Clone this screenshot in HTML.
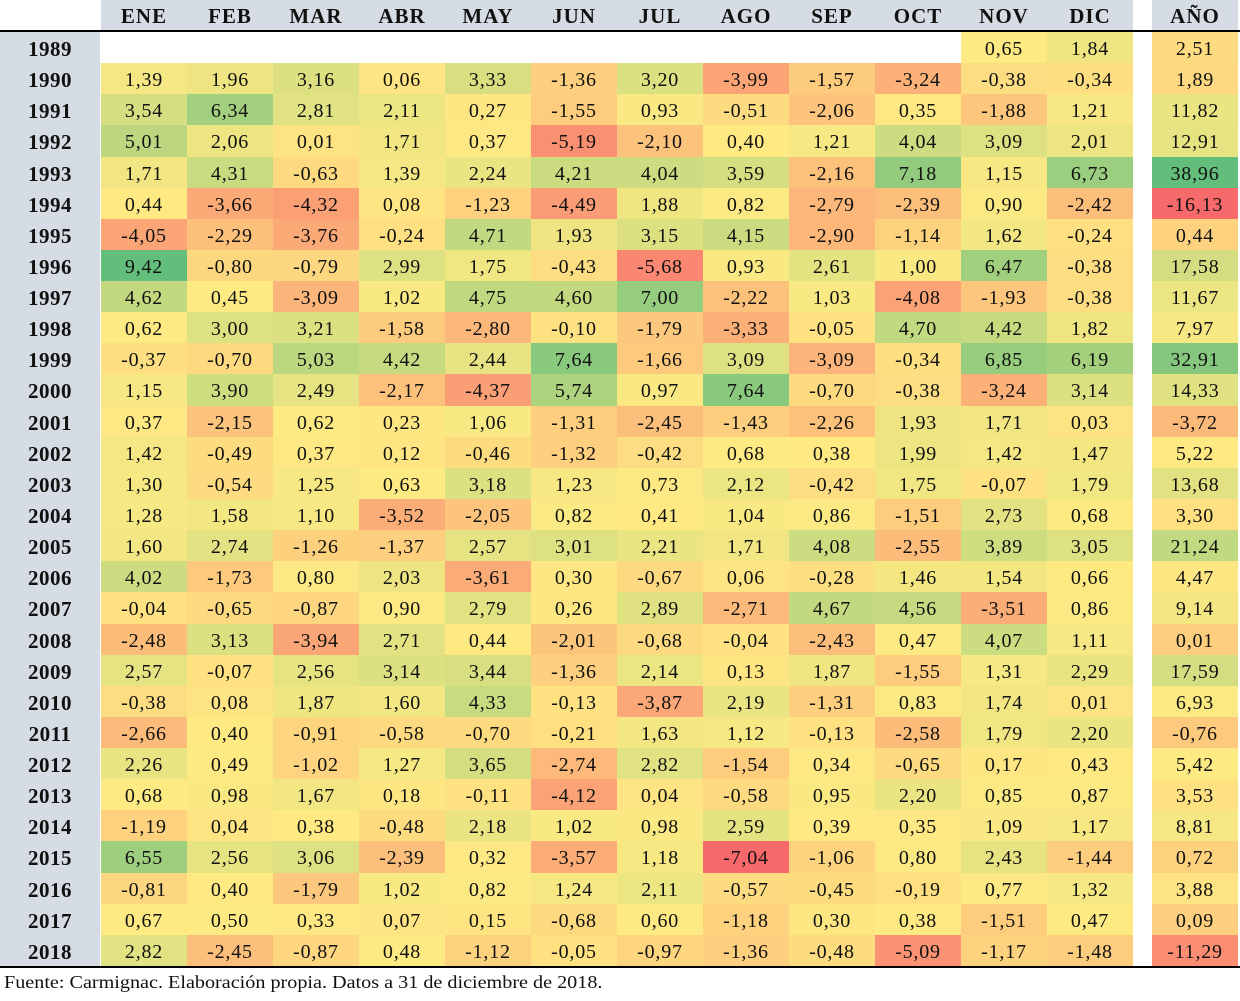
<!DOCTYPE html>
<html><head><meta charset="utf-8"><style>
body{margin:0;width:1240px;height:1001px;background:#fff;position:relative;overflow:hidden;font-family:"Liberation Serif",serif;color:#111}
.hdr{position:absolute;top:0;height:30px;background:#d6dce4;font-weight:bold;font-size:21px;line-height:32px;text-align:center;letter-spacing:1px}
.line{position:absolute;left:0;width:1240px;height:2px;background:#000}
.yc{position:absolute;left:0;top:32px;width:100px;height:934px;background:#d6dce4}
.r{position:absolute;left:0;height:31.133px;width:1240px}
.r div{position:absolute;top:0;height:31.133px;line-height:34px;text-align:center;font-size:20px;letter-spacing:0.8px}
.r div.y{left:0;width:100px;font-weight:bold;font-size:21px;letter-spacing:0.5px}
.foot{position:absolute;left:4px;top:972px;font-size:18px;transform:scaleX(1.12);transform-origin:0 0;white-space:nowrap}
</style></head><body>
<div class="yc"></div>
<div id="hd"></div>
<div class="line" style="top:30px"></div>
<div id="rows">
<p>1989|||||||||||0,65|1,84|2,51</p>
<p>1990|1,39|1,96|3,16|0,06|3,33|-1,36|3,20|-3,99|-1,57|-3,24|-0,38|-0,34|1,89</p>
<p>1991|3,54|6,34|2,81|2,11|0,27|-1,55|0,93|-0,51|-2,06|0,35|-1,88|1,21|11,82</p>
<p>1992|5,01|2,06|0,01|1,71|0,37|-5,19|-2,10|0,40|1,21|4,04|3,09|2,01|12,91</p>
<p>1993|1,71|4,31|-0,63|1,39|2,24|4,21|4,04|3,59|-2,16|7,18|1,15|6,73|38,96</p>
<p>1994|0,44|-3,66|-4,32|0,08|-1,23|-4,49|1,88|0,82|-2,79|-2,39|0,90|-2,42|-16,13</p>
<p>1995|-4,05|-2,29|-3,76|-0,24|4,71|1,93|3,15|4,15|-2,90|-1,14|1,62|-0,24|0,44</p>
<p>1996|9,42|-0,80|-0,79|2,99|1,75|-0,43|-5,68|0,93|2,61|1,00|6,47|-0,38|17,58</p>
<p>1997|4,62|0,45|-3,09|1,02|4,75|4,60|7,00|-2,22|1,03|-4,08|-1,93|-0,38|11,67</p>
<p>1998|0,62|3,00|3,21|-1,58|-2,80|-0,10|-1,79|-3,33|-0,05|4,70|4,42|1,82|7,97</p>
<p>1999|-0,37|-0,70|5,03|4,42|2,44|7,64|-1,66|3,09|-3,09|-0,34|6,85|6,19|32,91</p>
<p>2000|1,15|3,90|2,49|-2,17|-4,37|5,74|0,97|7,64|-0,70|-0,38|-3,24|3,14|14,33</p>
<p>2001|0,37|-2,15|0,62|0,23|1,06|-1,31|-2,45|-1,43|-2,26|1,93|1,71|0,03|-3,72</p>
<p>2002|1,42|-0,49|0,37|0,12|-0,46|-1,32|-0,42|0,68|0,38|1,99|1,42|1,47|5,22</p>
<p>2003|1,30|-0,54|1,25|0,63|3,18|1,23|0,73|2,12|-0,42|1,75|-0,07|1,79|13,68</p>
<p>2004|1,28|1,58|1,10|-3,52|-2,05|0,82|0,41|1,04|0,86|-1,51|2,73|0,68|3,30</p>
<p>2005|1,60|2,74|-1,26|-1,37|2,57|3,01|2,21|1,71|4,08|-2,55|3,89|3,05|21,24</p>
<p>2006|4,02|-1,73|0,80|2,03|-3,61|0,30|-0,67|0,06|-0,28|1,46|1,54|0,66|4,47</p>
<p>2007|-0,04|-0,65|-0,87|0,90|2,79|0,26|2,89|-2,71|4,67|4,56|-3,51|0,86|9,14</p>
<p>2008|-2,48|3,13|-3,94|2,71|0,44|-2,01|-0,68|-0,04|-2,43|0,47|4,07|1,11|0,01</p>
<p>2009|2,57|-0,07|2,56|3,14|3,44|-1,36|2,14|0,13|1,87|-1,55|1,31|2,29|17,59</p>
<p>2010|-0,38|0,08|1,87|1,60|4,33|-0,13|-3,87|2,19|-1,31|0,83|1,74|0,01|6,93</p>
<p>2011|-2,66|0,40|-0,91|-0,58|-0,70|-0,21|1,63|1,12|-0,13|-2,58|1,79|2,20|-0,76</p>
<p>2012|2,26|0,49|-1,02|1,27|3,65|-2,74|2,82|-1,54|0,34|-0,65|0,17|0,43|5,42</p>
<p>2013|0,68|0,98|1,67|0,18|-0,11|-4,12|0,04|-0,58|0,95|2,20|0,85|0,87|3,53</p>
<p>2014|-1,19|0,04|0,38|-0,48|2,18|1,02|0,98|2,59|0,39|0,35|1,09|1,17|8,81</p>
<p>2015|6,55|2,56|3,06|-2,39|0,32|-3,57|1,18|-7,04|-1,06|0,80|2,43|-1,44|0,72</p>
<p>2016|-0,81|0,40|-1,79|1,02|0,82|1,24|2,11|-0,57|-0,45|-0,19|0,77|1,32|3,88</p>
<p>2017|0,67|0,50|0,33|0,07|0,15|-0,68|0,60|-1,18|0,30|0,38|-1,51|0,47|0,09</p>
<p>2018|2,82|-2,45|-0,87|0,48|-1,12|-0,05|-0,97|-1,36|-0,48|-5,09|-1,17|-1,48|-11,29</p>
</div>
<div class="line" style="top:966px"></div>
<div class="foot">Fuente: Carmignac. Elaboración propia. Datos a 31 de diciembre de 2018.</div>
<script>
var heads=["ENE","FEB","MAR","ABR","MAY","JUN","JUL","AGO","SEP","OCT","NOV","DIC"];
var hd=document.getElementById('hd'),h='';
heads.forEach(function(t,i){h+='<div class="hdr" style="left:'+(101+i*86)+'px;width:86px">'+t+'</div>';});
h+='<div class="hdr" style="left:1152px;width:86px">AÑO</div>';
hd.innerHTML=h;
var ps=[].slice.call(document.querySelectorAll('#rows p')),rows=ps.map(function(p){return p.textContent.split('|');});
function num(s){return parseFloat(s.replace(',','.'));}
var mv=[],av=[];
rows.forEach(function(r){for(var i=1;i<=12;i++)if(r[i])mv.push(num(r[i]));av.push(num(r[13]));});
function stats(a){var s=a.slice().sort(function(x,y){return x-y});var n=s.length,m=(n%2)?s[(n-1)/2]:(s[n/2-1]+s[n/2])/2;return [s[0],m,s[n-1]];}
var ms=stats(mv),as=stats(av);
var R=[248,105,107],Y=[254,234,131],G=[99,190,123];
function col(v,st){var a,b,t;if(v<=st[1]){a=R;b=Y;t=(v-st[0])/(st[1]-st[0]);t=Math.pow(t,0.85);}else{a=Y;b=G;t=(v-st[1])/(st[2]-st[1]);t=Math.pow(t,1.25);}
return 'rgb('+a.map(function(c,i){return Math.round(c+(b[i]-c)*t)}).join(',')+')';}
var out='';
rows.forEach(function(r,k){var top=32+k*31.133;var s='<div class="r" style="top:'+top+'px"><div class="y">'+r[0]+'</div>';
for(var i=1;i<=12;i++){if(r[i])s+='<div style="left:'+(101+(i-1)*86)+'px;width:86px;background:'+col(num(r[i]),ms)+'">'+r[i]+'</div>';}
s+='<div style="left:1152px;width:86px;background:'+col(num(r[13]),as)+'">'+r[13]+'</div></div>';out+=s;});
document.getElementById('rows').innerHTML=out;
</script>
</body></html>
